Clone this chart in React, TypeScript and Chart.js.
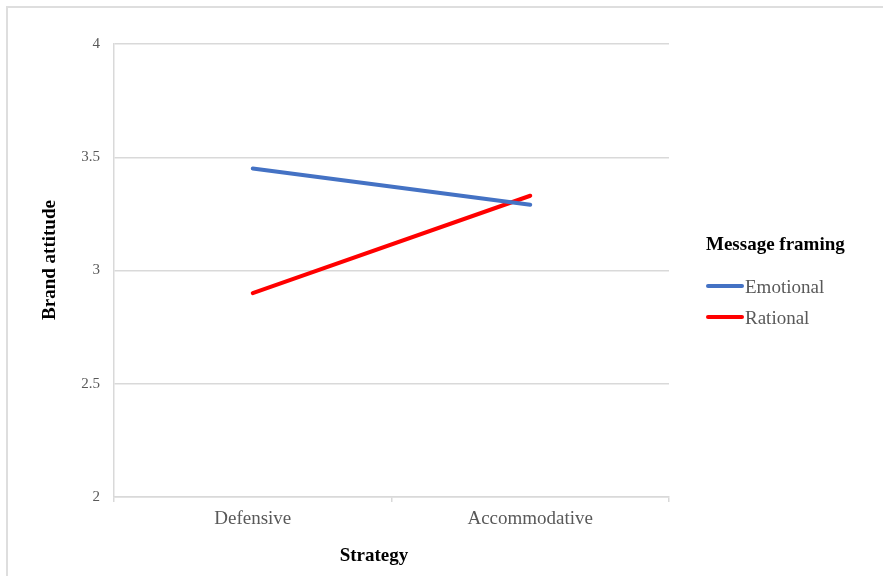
import React, { useEffect, useRef } from "react";
import { Chart, registerables } from "chart.js";

Chart.register(...registerables);

const categories = ["Defensive", "Accommodative"];
const emotional = [3.45, 3.29];
const rational = [2.9, 3.33];
const seriesNames = ["Emotional", "Rational"];
const seriesColors = ["#4472C4", "#FF0000"];
const yTickValues = [2, 2.5, 3, 3.5, 4];
const legendTitle = "Message framing";
const xTitle = "Strategy";
const yTitle = "Brand attitude";

const FONT = '"Liberation Serif", "Times New Roman", serif';
const GRID = "#d9d9d9";
const LABEL = "#595959";

const overlayPlugin = {
  id: "overlay",
  afterDraw(chart: any) {
    const ctx = chart.ctx;
    ctx.save();
    // axis titles
    ctx.fillStyle = "#000";
    ctx.font = `bold 19px ${FONT}`;
    ctx.textAlign = "center";
    ctx.textBaseline = "alphabetic";
    ctx.fillText(xTitle, 374, 561);
    ctx.save();
    ctx.translate(55, 260);
    ctx.rotate(-Math.PI / 2);
    ctx.fillText(yTitle, 0, 0);
    ctx.restore();
    // legend
    ctx.textAlign = "left";
    ctx.fillText(legendTitle, 706, 250);
    ctx.font = `19px ${FONT}`;
    const rows = [286, 317];
    chart.data.datasets.forEach((ds: any, i: number) => {
      const y = rows[i];
      ctx.strokeStyle = ds.borderColor;
      ctx.lineWidth = 4;
      ctx.lineCap = "round";
      ctx.beginPath();
      ctx.moveTo(708, y);
      ctx.lineTo(742, y);
      ctx.stroke();
      ctx.fillStyle = LABEL;
      ctx.fillText(ds.label, 745, y + 7);
    });
    ctx.restore();
  },
};

export default function App() {
  const ref = useRef<HTMLCanvasElement | null>(null);
  useEffect(() => {
    if (!ref.current) return;
    const chart = new Chart(ref.current, {
      type: "line",
      data: {
        labels: categories,
        datasets: [
          {
            label: seriesNames[0],
            data: emotional,
            borderColor: seriesColors[0],
            backgroundColor: seriesColors[0],
            borderWidth: 4,
            borderCapStyle: "round",
            pointRadius: 0,
            tension: 0,
          },
          {
            label: seriesNames[1],
            data: rational,
            borderColor: seriesColors[1],
            backgroundColor: seriesColors[1],
            borderWidth: 4,
            borderCapStyle: "round",
            pointRadius: 0,
            tension: 0,
          },
        ],
      },
      options: {
        animation: false,
        responsive: false,
        maintainAspectRatio: false,
        layout: { padding: { left: 0, right: 214, top: 44, bottom: 0 } },
        plugins: { legend: { display: false }, tooltip: { enabled: false } },
        scales: {
          x: {
            type: "category",
            offset: true,
            grid: {
              offset: true,
              drawOnChartArea: false,
              drawTicks: true,
              tickLength: 5,
              color: GRID,
              lineWidth: 1.5,
            },
            border: { display: true, color: GRID, width: 1.5 },
            ticks: { color: LABEL, font: { family: FONT, size: 19 }, padding: 6 },
            afterFit(scale: any) {
              scale.height = 79;
            },
          },
          y: {
            min: 2,
            max: 4,
            afterBuildTicks(scale: any) {
              scale.ticks = yTickValues.map((v) => ({ value: v }));
            },
            grid: { drawTicks: false, color: GRID, lineWidth: 1.5 },
            border: { display: true, color: GRID, width: 1.5 },
            ticks: {
              color: LABEL,
              font: { family: FONT, size: 15 },
              padding: 14,
              callback: (v: any) => String(v),
            },
            afterFit(scale: any) {
              scale.width = 114;
            },
          },
        },
      },
      plugins: [overlayPlugin],
    } as any);
    return () => chart.destroy();
  }, []);
  return (
    <div style={{ position: "fixed", left: 0, top: 0, width: 883, height: 576, background: "#fff" }}>
      <div
        style={{
          position: "absolute",
          left: 6,
          top: 6,
          width: 1000,
          height: 1000,
          border: "2px solid #dedede",
        }}
      />
      <canvas
        ref={ref}
        width={883}
        height={576}
        style={{ position: "absolute", left: 0, top: 0, width: 883, height: 576 }}
      />
    </div>
  );
}
